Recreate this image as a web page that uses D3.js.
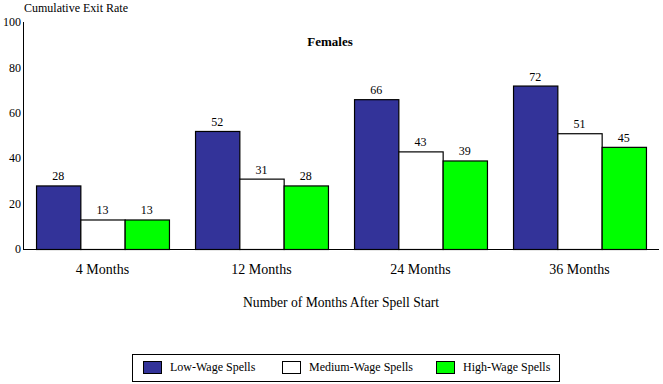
<!DOCTYPE html>
<html>
<head>
<meta charset="utf-8">
<script src="https://cdn.jsdelivr.net/npm/d3@7"></script>
<style>
body { margin: 0; background: #fff; }
text { font-family: "Liberation Serif", "Times New Roman", serif; font-size: 12px; fill: #000; }
</style>
</head>
<body>
<div id="chart"></div>
<script>
var categories = ["4 Months", "12 Months", "24 Months", "36 Months"];
var seriesNames = ["Low-Wage Spells", "Medium-Wage Spells", "High-Wage Spells"];
var lowWage = [28, 52, 66, 72];
var mediumWage = [13, 31, 43, 51];
var highWage = [13, 28, 39, 45];
var yTicks = [0, 20, 40, 60, 80, 100];

var colors = ["#333399", "#ffffff", "#00ff00"];
var series = [lowWage, mediumWage, highWage];

var width = 663, height = 384;
var plotLeft = 23, plotRight = 659, plotTop = 22, plotBottom = 249;

var svg = d3.select("#chart").append("svg")
    .attr("width", width)
    .attr("height", height);

var x = d3.scaleBand()
    .domain(categories)
    .range([plotLeft, plotRight])
    .paddingInner(0.164)
    .paddingOuter(0.082);

var xInner = d3.scaleBand()
    .domain(d3.range(series.length))
    .range([0, x.bandwidth()]);

var y = d3.scaleLinear()
    .domain([0, 100])
    .range([plotBottom, plotTop]);

// y axis line and labels (no tick marks)
svg.append("line")
    .attr("x1", plotLeft + 0.5).attr("x2", plotLeft + 0.5)
    .attr("y1", y(100)).attr("y2", plotBottom)
    .attr("stroke", "#000");

svg.selectAll(".ytick")
    .data(yTicks)
    .enter().append("text")
    .attr("class", "ytick")
    .attr("x", plotLeft - 2)
    .attr("y", function(d) { return y(d); })
    .attr("dy", ".35em")
    .style("text-anchor", "end")
    .text(function(d) { return d; });

svg.append("text")
    .attr("x", 24)
    .attr("y", 12)
    .text("Cumulative Exit Rate");

svg.append("text")
    .attr("x", 330)
    .attr("y", 46)
    .style("text-anchor", "middle")
    .style("font-weight", "bold")
    .style("font-size", "13px")
    .text("Females");

// bars
series.forEach(function(vals, s) {
    var g = svg.append("g");
    g.selectAll("rect")
        .data(vals)
        .enter().append("rect")
        .attr("x", function(d, i) { return x(categories[i]) + xInner(s) + 0.5; })
        .attr("width", xInner.bandwidth())
        .attr("y", function(d) { return y(d) + 0.5; })
        .attr("height", function(d) { return plotBottom - y(d); })
        .attr("fill", colors[s])
        .attr("stroke", "#000")
        .attr("stroke-width", 1.2);

    g.selectAll("text")
        .data(vals)
        .enter().append("text")
        .attr("x", function(d, i) { return x(categories[i]) + xInner(s) + xInner.bandwidth() / 2; })
        .attr("y", function(d) { return y(d) - 5; })
        .style("text-anchor", "middle")
        .text(function(d) { return d; });
});

// baseline
svg.append("line")
    .attr("x1", plotLeft).attr("x2", plotRight)
    .attr("y1", plotBottom + 0.5).attr("y2", plotBottom + 0.5)
    .attr("stroke", "#000");

svg.selectAll(".xlab")
    .data(categories)
    .enter().append("text")
    .attr("class", "xlab")
    .attr("x", function(d) { return x(d) + x.bandwidth() / 2; })
    .attr("y", 274)
    .style("text-anchor", "middle")
    .style("font-size", "14px")
    .text(function(d) { return d; });

svg.append("text")
    .attr("x", 341)
    .attr("y", 307)
    .style("text-anchor", "middle")
    .style("font-size", "13.6px")
    .text("Number of Months After Spell Start");

// legend
var legend = svg.append("g");
legend.append("rect")
    .attr("x", 132.5).attr("y", 354.5)
    .attr("width", 427).attr("height", 27)
    .attr("fill", "#fff")
    .attr("stroke", "#000");

var legendX = [143, 282, 436];
seriesNames.forEach(function(name, i) {
    legend.append("rect")
        .attr("x", legendX[i] + 0.5).attr("y", 361.5)
        .attr("width", 18).attr("height", 12)
        .attr("fill", colors[i])
        .attr("stroke", "#000");
    legend.append("text")
        .attr("x", legendX[i] + 27)
        .attr("y", 371)
        .text(name);
});
</script>
</body>
</html>
